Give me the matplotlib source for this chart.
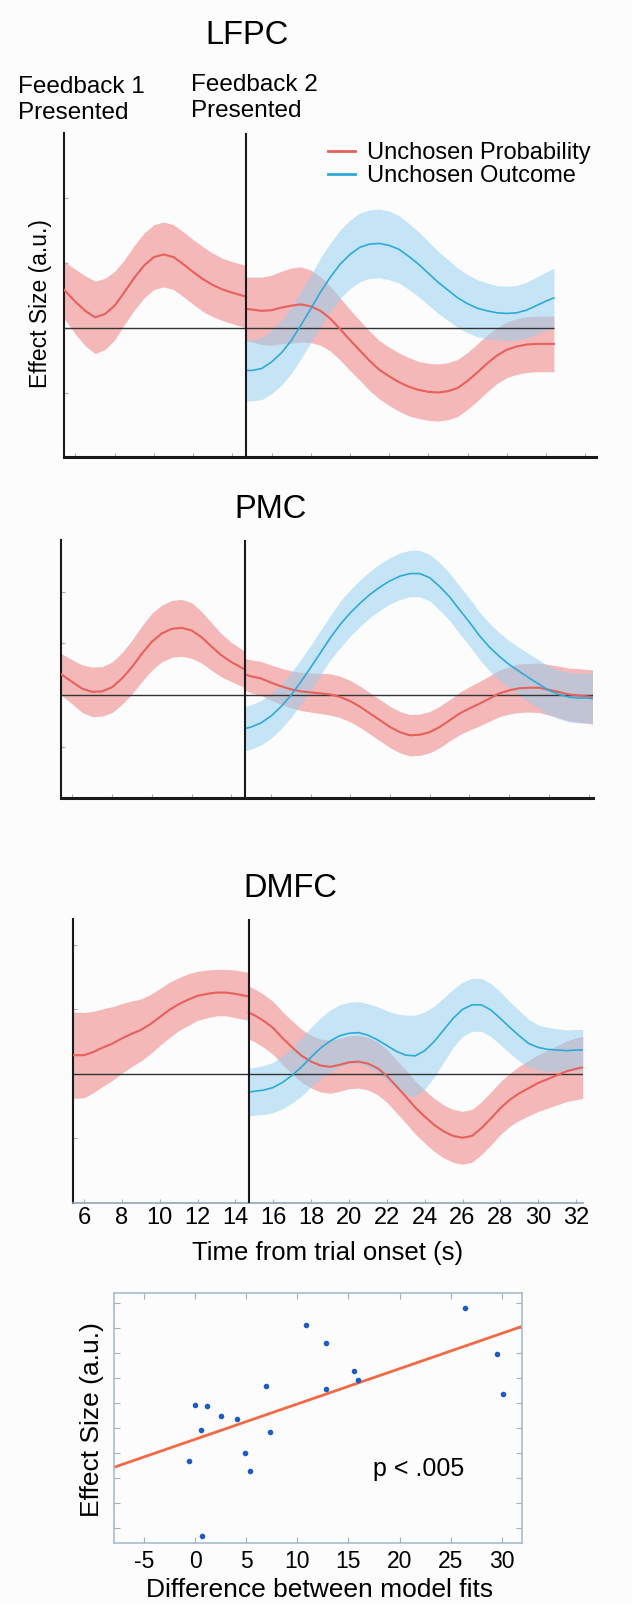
import matplotlib.pyplot as plt
import numpy as np

plt.rcParams['font.family'] = ['Liberation Sans', 'DejaVu Sans']

W, H = 632, 1604

# time grid (s)
fb2 = 14.7
t_pre = [5.4, 6, 6.5, 7, 7.5, 8, 8.5, 9, 9.5, 10, 10.5, 11, 11.5, 12, 12.5, 13,
         13.5, 14, 14.7]
t_half = [15, 15.5, 16, 16.5, 17, 17.5, 18, 18.5, 19, 19.5, 20, 20.5, 21, 21.5,
          22, 22.5, 23, 23.5, 24, 24.5, 25, 25.5, 26, 26.5, 27, 27.5, 28, 28.5,
          29, 29.5, 30, 30.5, 31, 31.5, 32]
time_ticks = [6, 8, 10, 12, 14, 16, 18, 20, 22, 24, 26, 28, 30, 32]

# LFPC
lfpc_t_post = [fb2] + t_half[:31] + [30.4]
lfpc_prob_pre = [0.59, 0.40, 0.26, 0.16, 0.21, 0.34, 0.55, 0.77, 0.96, 1.09, 1.13,
                 1.09, 0.98, 0.86, 0.75, 0.66, 0.59, 0.54, 0.48]
lfpc_prob_pre_err = [0.44, 0.5, 0.54, 0.56, 0.55, 0.53, 0.5, 0.5, 0.5, 0.5, 0.5,
                     0.5, 0.5, 0.5, 0.5, 0.49, 0.48, 0.48, 0.48]
lfpc_prob_post = [0.29, 0.28, 0.26, 0.27, 0.31, 0.34, 0.36, 0.33, 0.26, 0.14,
                  -0.02, -0.19, -0.35, -0.51, -0.65, -0.75, -0.84, -0.91, -0.96,
                  -0.99, -1.00, -0.98, -0.93, -0.82, -0.69, -0.55, -0.43, -0.34,
                  -0.29, -0.26, -0.25, -0.25, -0.25]
lfpc_prob_post_err = [0.49, 0.5, 0.52, 0.54, 0.56, 0.58, 0.58, 0.56, 0.53, 0.5,
                      0.48, 0.47, 0.46, 0.46, 0.45, 0.45, 0.45, 0.45, 0.44, 0.44,
                      0.44, 0.44, 0.44, 0.44, 0.44, 0.44, 0.43, 0.43, 0.43, 0.43,
                      0.43, 0.43, 0.43]
lfpc_out_post = [-0.66, -0.66, -0.63, -0.53, -0.39, -0.20, 0.04, 0.29, 0.55, 0.78,
                 0.98, 1.13, 1.24, 1.29, 1.30, 1.27, 1.21, 1.10, 0.98, 0.84, 0.70,
                 0.58, 0.46, 0.37, 0.30, 0.26, 0.23, 0.22, 0.23, 0.27, 0.34, 0.41,
                 0.46]
lfpc_out_post_err = [0.47, 0.47, 0.48, 0.49, 0.5, 0.51, 0.52, 0.52, 0.53, 0.53,
                     0.53, 0.53, 0.53, 0.53, 0.53, 0.53, 0.52, 0.51, 0.5, 0.49,
                     0.48, 0.47, 0.46, 0.45, 0.44, 0.43, 0.42, 0.42, 0.42, 0.43,
                     0.44, 0.45, 0.46]

# PMC
pmc_t_post = [fb2] + t_half + [32.2]
pmc_prob_pre = [0.41, 0.25, 0.12, 0.06, 0.07, 0.15, 0.32, 0.54, 0.80, 1.03, 1.19,
                1.28, 1.30, 1.25, 1.12, 0.94, 0.77, 0.64, 0.49]
pmc_prob_pre_err = [0.4, 0.43, 0.46, 0.48, 0.48, 0.49, 0.5, 0.52, 0.54, 0.55, 0.55,
                    0.55, 0.55, 0.54, 0.5, 0.46, 0.42, 0.38, 0.35]
pmc_prob_post = [0.40, 0.36, 0.32, 0.24, 0.17, 0.11, 0.07, 0.05, 0.03, 0.01,
                 -0.04, -0.12, -0.23, -0.36, -0.49, -0.62, -0.72, -0.78, -0.77,
                 -0.72, -0.62, -0.49, -0.36, -0.26, -0.17, -0.07, 0.03, 0.09, 0.13,
                 0.14, 0.14, 0.10, 0.06, 0.01, -0.01, -0.03, -0.04]
pmc_prob_post_err = [0.31, 0.32, 0.33, 0.34, 0.35, 0.36, 0.37, 0.38, 0.39, 0.4,
                     0.4, 0.4, 0.4, 0.4, 0.4, 0.4, 0.4, 0.4, 0.4, 0.4, 0.4, 0.4,
                     0.41, 0.42, 0.43, 0.44, 0.45, 0.46, 0.47, 0.47, 0.48, 0.49,
                     0.5, 0.51, 0.52, 0.52, 0.53]
pmc_out_post = [-0.65, -0.62, -0.54, -0.41, -0.23, -0.01, 0.25, 0.53, 0.82, 1.11,
                1.37, 1.59, 1.78, 1.95, 2.09, 2.21, 2.30, 2.35, 2.35, 2.27, 2.10,
                1.90, 1.65, 1.41, 1.15, 0.93, 0.75, 0.59, 0.46, 0.33, 0.21, 0.09,
                0.01, -0.04, -0.06, -0.06, -0.07]
pmc_out_post_err = [0.43, 0.43, 0.43, 0.43, 0.43, 0.43, 0.43, 0.43, 0.43, 0.43,
                    0.45, 0.45, 0.45, 0.45, 0.45, 0.45, 0.45, 0.45, 0.45, 0.45,
                    0.46, 0.46, 0.46, 0.46, 0.46, 0.46, 0.46, 0.46, 0.46, 0.47,
                    0.47, 0.47, 0.47, 0.48, 0.48, 0.48, 0.48]

# DMFC
dmfc_t_post = [fb2] + t_half + [32.35]
dmfc_prob_pre = [0.29, 0.29, 0.34, 0.41, 0.47, 0.55, 0.62, 0.68, 0.77, 0.88, 0.99,
                 1.08, 1.15, 1.21, 1.24, 1.26, 1.26, 1.24, 1.20]
dmfc_prob_pre_err = [0.67, 0.66, 0.63, 0.6, 0.57, 0.54, 0.51, 0.48, 0.46, 0.44,
                     0.43, 0.41, 0.4, 0.38, 0.37, 0.36, 0.36, 0.37, 0.37]
dmfc_prob_post = [0.95, 0.91, 0.82, 0.71, 0.55, 0.41, 0.28, 0.19, 0.13, 0.11,
                  0.14, 0.18, 0.19, 0.16, 0.09, -0.03, -0.19, -0.35, -0.52, -0.66,
                  -0.79, -0.89, -0.96, -0.99, -0.96, -0.84, -0.69, -0.53, -0.40,
                  -0.30, -0.22, -0.14, -0.08, -0.02, 0.04, 0.08, 0.10]
dmfc_prob_post_err = [0.41, 0.41, 0.41, 0.41, 0.41, 0.41, 0.41, 0.41, 0.41, 0.41,
                      0.41, 0.41, 0.41, 0.41, 0.41, 0.41, 0.41, 0.41, 0.41, 0.41,
                      0.41, 0.41, 0.41, 0.41, 0.41, 0.41, 0.41, 0.41, 0.41, 0.42,
                      0.43, 0.44, 0.45, 0.46, 0.47, 0.48, 0.48]
dmfc_out_post = [-0.28, -0.27, -0.25, -0.21, -0.13, -0.02, 0.11, 0.26, 0.40, 0.51,
                 0.59, 0.63, 0.64, 0.60, 0.53, 0.44, 0.35, 0.29, 0.28, 0.36, 0.50,
                 0.68, 0.86, 1.00, 1.07, 1.07, 0.99, 0.86, 0.72, 0.59, 0.47, 0.41,
                 0.38, 0.37, 0.36, 0.37, 0.37]
dmfc_out_post_err = [0.37, 0.37, 0.38, 0.39, 0.41, 0.43, 0.45, 0.46, 0.47, 0.48,
                     0.48, 0.48, 0.48, 0.49, 0.51, 0.54, 0.58, 0.62, 0.63, 0.6,
                     0.55, 0.5, 0.45, 0.42, 0.41, 0.41, 0.41, 0.41, 0.4, 0.39,
                     0.37, 0.35, 0.34, 0.33, 0.32, 0.32, 0.32]

# scatter: difference between model fits vs effect size
fit_diff = [26.44, 10.81, 12.77, 29.59, 15.52, 15.95, 12.77, 6.95, 30.10, -0.04,
            1.10, 2.55, 4.05, 0.59, 7.27, 4.87, -0.67, 5.38, 0.63]
effect = [8.83, 8.15, 7.43, 6.99, 6.31, 5.93, 5.56, 5.71, 5.37, 4.93,
          4.89, 4.51, 4.36, 3.93, 3.84, 3.03, 2.69, 2.31, -0.31]
fit_slope = 0.141
fit_intercept = 3.57
scatter_xticks = [-5, 0, 5, 10, 15, 20, 25, 30]

RED = '#e8605a'
RED_FILL = '#f08c8c'
CYAN = '#2eaad8'
CYAN_FILL = '#8fd0f0'
TICKC = '#9fb2c4'

fig = plt.figure(figsize=(W / 100, H / 100), dpi=100, facecolor='#fcfcfd')


def place(l, t, r, b):
    return fig.add_axes([l / W, 1 - b / H, (r - l) / W, (b - t) / H])


def ftext(x, y, s, **kw):
    fig.text(x / W, 1 - y / H, s, **kw)


def band(ax, t, mean, err, fill, alpha):
    m = np.array(mean)
    e = np.array(err)
    ax.fill_between(t, m - e, m + e, color=fill, alpha=alpha, lw=0)


def panel(box, xmax, ylim, prob_pre, prob_pre_err, t_post, prob_post,
          prob_post_err, out_post, out_post_err, bottom_dark=True):
    ax = place(*box)
    ax.set_facecolor('none')
    band(ax, t_pre, prob_pre, prob_pre_err, RED_FILL, 0.6)
    band(ax, t_post, prob_post, prob_post_err, RED_FILL, 0.6)
    band(ax, t_post, out_post, out_post_err, CYAN_FILL, 0.5)
    ax.hlines(0, t_pre[0], t_post[-1], color='#333333', lw=1, zorder=3)
    ax.plot(t_pre, prob_pre, color=RED, lw=1.5, zorder=4)
    ax.plot(t_post, prob_post, color=RED, lw=1.5, zorder=4)
    ax.plot(t_post, out_post, color=CYAN, lw=1.2, zorder=4)
    ax.axvline(fb2, color='#1a1a1a', lw=1.5, zorder=5)
    ax.set_xlim(5.4, xmax)
    ax.set_ylim(*ylim)
    for s in ['top', 'right']:
        ax.spines[s].set_visible(False)
    ax.spines['left'].set_color('#1a1a1a')
    ax.spines['left'].set_linewidth(1.5)
    if bottom_dark:
        ax.spines['bottom'].set_color('#1a1a1a')
        ax.spines['bottom'].set_linewidth(2.2)
    else:
        ax.spines['bottom'].set_color('#8ea4b8')
        ax.spines['bottom'].set_linewidth(1.2)
    ax.set_xticks(time_ticks)
    ax.set_yticks([-1, 0, 1, 2])
    ax.set_yticklabels([])
    ax.tick_params(axis='both', direction='in', length=3, width=0.8, color=TICKC)
    return ax


ax1 = panel((63.7, 133.3, 596, 457.3), 32.55, (-2, 3),
            lfpc_prob_pre, lfpc_prob_pre_err, lfpc_t_post, lfpc_prob_post,
            lfpc_prob_post_err, lfpc_out_post, lfpc_out_post_err)
ax1.set_xticklabels([])

ax2 = panel((60.5, 540, 592.5, 798.3), 32.2, (-2, 3),
            pmc_prob_pre, pmc_prob_pre_err, pmc_t_post, pmc_prob_post,
            pmc_prob_post_err, pmc_out_post, pmc_out_post_err)
ax2.set_xticklabels([])

ax3 = panel((72.7, 919, 582.7, 1203), 32.35, (-2, 2.4),
            dmfc_prob_pre, dmfc_prob_pre_err, dmfc_t_post, dmfc_prob_post,
            dmfc_prob_post_err, dmfc_out_post, dmfc_out_post_err, bottom_dark=False)
ax3.set_xticklabels([str(v) for v in time_ticks], fontsize=17)
ax3.tick_params(axis='x', pad=3)

# titles and annotations
ftext(247, 36, 'LFPC', fontsize=23.5, ha='center', va='center')
ftext(270.5, 509, 'PMC', fontsize=23.5, ha='center', va='center')
ftext(290, 888.5, 'DMFC', fontsize=23.5, ha='center', va='center')
ftext(18, 100, 'Feedback 1\nPresented', fontsize=17.5, ha='left', va='center',
      linespacing=1.2)
ftext(191, 98, 'Feedback 2\nPresented', fontsize=17.5, ha='left', va='center',
      linespacing=1.2)
ftext(41, 304, 'Effect Size (a.u.)', fontsize=16.5, rotation=90,
      ha='center', va='center')
ftext(327.5, 1253, 'Time from trial onset (s)', fontsize=18.5,
      ha='center', va='center')

handles = [plt.Line2D([], [], color=RED, lw=2), plt.Line2D([], [], color=CYAN, lw=2)]
fig.legend(handles, ['Unchosen Probability', 'Unchosen Outcome'],
           loc='upper left', bbox_to_anchor=(328 / W, 1 - 142 / H), frameon=False,
           fontsize=17, handlelength=1.15, handletextpad=0.5, labelspacing=0.05,
           borderpad=0, borderaxespad=0)

# scatter panel
ax4 = place(113.7, 1292.7, 522, 1542.7)
ax4.set_facecolor('none')
ax4.scatter(fit_diff, effect, s=9, color='#1d5cc4', zorder=3)
xl = np.array([-8, 32])
ax4.plot(xl, fit_intercept + fit_slope * xl, color='#f26a45', lw=2, zorder=2)
ax4.set_xlim(-8, 32)
ax4.set_ylim(-0.57, 9.43)
ax4.set_xticks(scatter_xticks)
ax4.set_xticklabels([str(v) for v in scatter_xticks], fontsize=16.5)
ax4.set_yticks(range(10))
ax4.set_yticklabels([])
for s in ax4.spines.values():
    s.set_color('#a9bccc')
    s.set_linewidth(1.2)
ax4.tick_params(axis='both', direction='in', length=4, width=0.8, color=TICKC,
                top=True, right=True, pad=5)
ftext(419, 1469, 'p < .005', fontsize=18, ha='center', va='center')
ftext(92, 1420, 'Effect Size (a.u.)', fontsize=19, rotation=90,
      ha='center', va='center')
ftext(319.5, 1590, 'Difference between model fits', fontsize=19,
      ha='center', va='center')

fig.savefig('out.png', dpi=100, facecolor=fig.get_facecolor())
